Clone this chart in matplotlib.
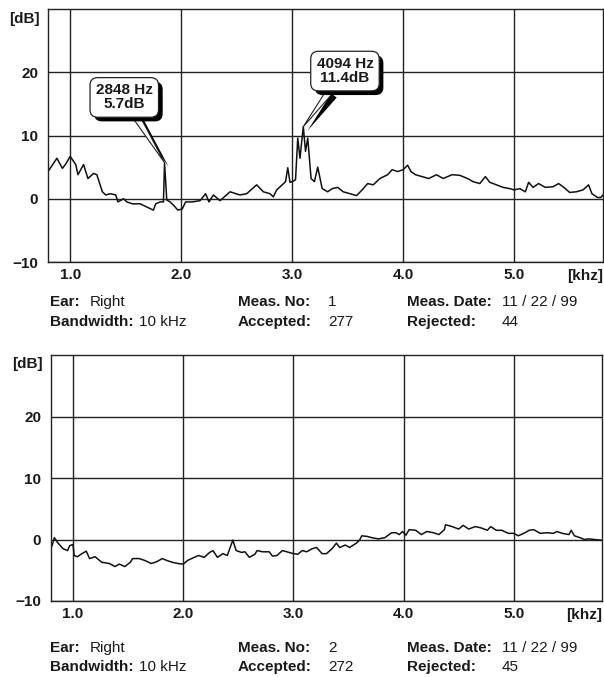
import numpy as np
import matplotlib.pyplot as plt
from matplotlib import patheffects as pe

plt.rcParams['font.family'] = ['Liberation Sans', 'DejaVu Sans']

# Mesure 1 (kHz, dB)
freq1 = [0.80, 0.88, 0.93, 0.96, 1.00, 1.05, 1.07, 1.12, 1.16, 1.21, 1.24, 1.29, 1.32, 1.36,
         1.41, 1.43, 1.48, 1.51, 1.56, 1.63, 1.69, 1.75, 1.77, 1.81, 1.84, 1.85, 1.87, 1.90,
         1.93, 1.97, 2.01, 2.04, 2.10, 2.17, 2.22, 2.25, 2.29, 2.35, 2.44, 2.53, 2.59, 2.68,
         2.74, 2.80, 2.83, 2.86, 2.91, 2.94, 2.96, 2.98, 3.00, 3.03, 3.05, 3.07, 3.10, 3.12,
         3.14, 3.17, 3.20, 3.23, 3.27, 3.32, 3.36, 3.41, 3.46, 3.52, 3.58, 3.63, 3.68, 3.73,
         3.79, 3.86, 3.90, 3.95, 4.00, 4.04, 4.07, 4.11, 4.17, 4.23, 4.30, 4.36, 4.44, 4.51,
         4.58, 4.63, 4.69, 4.74, 4.78, 4.84, 4.90, 4.96, 5.00, 5.05, 5.10, 5.13, 5.17, 5.22,
         5.28, 5.35, 5.40, 5.44, 5.50, 5.56, 5.62, 5.67, 5.70, 5.75, 5.78, 5.80]
level1 = [4.3, 6.4, 4.8, 5.5, 6.7, 5.4, 3.8, 5.4, 3.2, 4.0, 3.8, 1.1, 0.6, 0.8,
          0.6, -0.5, 0.0, -0.5, -0.8, -0.8, -1.3, -1.8, -0.8, -0.5, -0.5, 5.7, -0.2, -0.5,
          -1.0, -1.8, -1.6, -0.5, -0.5, -0.3, 0.8, -0.5, 0.6, -0.3, 1.1, 0.6, 0.8, 2.2,
          1.1, 0.8, 0.3, 1.4, 2.2, 2.7, 4.9, 2.6, 2.7, 3.0, 9.6, 6.4, 11.4, 7.5,
          9.6, 3.2, 2.7, 5.0, 1.6, 1.1, 1.6, 1.8, 1.1, 0.8, 0.5, 1.4, 2.4, 2.2,
          3.2, 3.8, 4.6, 4.3, 4.6, 5.3, 4.3, 3.8, 3.5, 3.2, 3.8, 3.2, 3.8, 3.7,
          3.2, 2.7, 2.4, 3.5, 2.6, 2.2, 1.8, 1.6, 1.4, 1.6, 1.1, 2.6, 1.8, 2.4,
          1.8, 1.9, 2.4, 1.9, 1.0, 1.1, 1.4, 2.2, 0.8, 0.2, 0.2, 0.6]

# Mesure 2
freq2 = [0.81, 0.83, 0.86, 0.91, 0.95, 0.97, 1.00, 1.01, 1.04, 1.08, 1.12, 1.15, 1.20, 1.26,
         1.33, 1.38, 1.42, 1.47, 1.52, 1.54, 1.60, 1.65, 1.71, 1.76, 1.81, 1.85, 1.90, 1.95,
         2.00, 2.04, 2.10, 2.14, 2.19, 2.24, 2.27, 2.31, 2.36, 2.40, 2.45, 2.48, 2.53, 2.56,
         2.60, 2.65, 2.67, 2.72, 2.78, 2.81, 2.85, 2.90, 2.94, 3.00, 3.04, 3.08, 3.12, 3.17,
         3.21, 3.26, 3.30, 3.35, 3.39, 3.42, 3.47, 3.51, 3.57, 3.60, 3.62, 3.67, 3.71, 3.77,
         3.83, 3.89, 3.93, 3.96, 3.99, 4.02, 4.05, 4.11, 4.16, 4.21, 4.27, 4.32, 4.37, 4.38,
         4.44, 4.50, 4.54, 4.59, 4.65, 4.70, 4.76, 4.79, 4.84, 4.89, 4.95, 5.00, 5.04, 5.09,
         5.14, 5.18, 5.24, 5.30, 5.36, 5.39, 5.44, 5.50, 5.52, 5.55, 5.60, 5.64, 5.68, 5.73,
         5.79]
level2 = [-1.0, 0.3, -0.5, -1.5, -1.8, -1.0, -0.8, -2.6, -2.8, -2.3, -1.9, -3.1, -2.8, -3.7,
          -3.9, -4.4, -4.0, -4.4, -3.7, -3.1, -3.1, -3.4, -3.9, -3.6, -3.1, -3.4, -3.7, -3.9,
          -4.0, -3.4, -2.9, -2.6, -2.9, -2.1, -1.8, -2.9, -2.3, -2.6, -0.1, -1.8, -2.1, -2.0,
          -2.9, -2.4, -1.8, -2.0, -2.0, -2.7, -2.6, -1.8, -2.0, -2.3, -2.4, -1.8, -2.0, -1.5,
          -1.3, -2.3, -2.3, -1.5, -0.6, -1.3, -0.9, -1.3, -0.6, -0.1, 0.6, 0.5, 0.3, 0.1,
          0.3, 1.1, 1.1, 0.8, 1.3, 0.7, 1.6, 1.5, 0.8, 1.3, 1.1, 0.8, 1.6, 2.4,
          2.1, 1.7, 2.3, 1.7, 2.1, 1.9, 1.5, 2.1, 1.5, 1.5, 1.0, 1.0, 0.6, 1.0,
          1.5, 1.6, 1.0, 1.1, 1.0, 1.3, 1.0, 0.8, 1.5, 0.6, 0.3, 0.0, 0.1, 0.0,
          -0.1]

peak_freq = [1.85, 3.10]
peak_level = [5.7, 11.4]
peak_labels = ['2848 Hz\n5.7dB', '4094 Hz\n11.4dB']
peak_offsets = [(-29, 47), (30, 40)]

xticks = [1.0, 2.0, 3.0, 4.0, 5.0]
yticks = [-10, 0, 10, 20]
meas_no = ['1', '2']
accepted = ['277', '272']
rejected = ['44', '45']

W, H = 604, 677
fig = plt.figure(figsize=(W / 100, H / 100), dpi=100)
INK = '#1a1a1a'

def px_rect(left, top, right, bottom):
    return [left / W, 1 - bottom / H, (right - left) / W, (bottom - top) / H]

def panel(rect, fx, fy):
    ax = fig.add_axes(rect)
    ax.set_xlim(0.8, 5.8)
    ax.set_ylim(-10, 30)
    ax.set_xticks(xticks)
    ax.set_xticklabels(['%.1f' % v for v in xticks])
    ax.set_yticks(yticks)
    ax.tick_params(length=0, labelsize=11, colors=INK)
    ax.tick_params(axis='x', pad=4)
    ax.tick_params(axis='y', pad=7)
    for lab in ax.get_xticklabels() + ax.get_yticklabels():
        lab.set_fontweight('bold')
    ax.grid(True, color='#222', lw=1.0)
    for s in ax.spines.values():
        s.set_linewidth(1.0)
        s.set_color('#222')
    ax.plot(fx, fy, color='#111', lw=1.1)
    ax.text(-0.015, 0.99, '[dB]', transform=ax.transAxes, ha='right', va='top',
            fontsize=11, fontweight='bold', color=INK)
    ax.text(1.0, -0.028, '[khz]', transform=ax.transAxes, ha='right', va='top',
            fontsize=11, fontweight='bold', color=INK)
    return ax

def info(y1, y2, i):
    kw_b = dict(fontsize=11, fontweight='bold', color=INK, va='center')
    kw_n = dict(fontsize=11, color=INK, va='center')
    fig.text(50 / W, 1 - y1 / H, 'Ear:', **kw_b)
    fig.text(90 / W, 1 - y1 / H, 'Right', **kw_n)
    fig.text(50 / W, 1 - y2 / H, 'Bandwidth:', **kw_b)
    fig.text(139 / W, 1 - y2 / H, '10 kHz', **kw_n)
    fig.text(238 / W, 1 - y1 / H, 'Meas. No:', **kw_b)
    fig.text(328 / W, 1 - y1 / H, meas_no[i], **kw_n)
    fig.text(238 / W, 1 - y2 / H, 'Accepted:', **kw_b)
    fig.text(328 / W, 1 - y2 / H, accepted[i], **kw_n)
    fig.text(407 / W, 1 - y1 / H, 'Meas. Date:', **kw_b)
    fig.text(502 / W, 1 - y1 / H, '11 / 22 / 99', **kw_n)
    fig.text(407 / W, 1 - y2 / H, 'Rejected:', **kw_b)
    fig.text(502 / W, 1 - y2 / H, rejected[i], **kw_n)

ax1 = panel(px_rect(48, 9, 603, 262), freq1, level1)
ax2 = panel(px_rect(51, 355, 602, 601), freq2, level2)

shadow = [pe.withSimplePatchShadow(offset=(3, -3), shadow_rgbFace='black', alpha=1)]
for fx, fy, lab, off in zip(peak_freq, peak_level, peak_labels, peak_offsets):
    t = ax1.annotate(lab, xy=(fx, fy), xytext=off, textcoords='offset points',
                     ha='center', va='center', fontsize=11, fontweight='bold',
                     color=INK, linespacing=1.0,
                     bbox=dict(boxstyle='round,pad=0.38,rounding_size=0.5', fc='white',
                               ec='#222', lw=0.9),
                     arrowprops=dict(arrowstyle='wedge,tail_width=0.45,shrink_factor=0.5',
                                     fc='white', ec='#222', lw=0.8,
                                     shrinkA=0, shrinkB=0, path_effects=shadow))
    t.get_bbox_patch().set_path_effects(shadow)

info(302, 322, 0)
info(648, 667, 1)

fig.savefig('out.png', dpi=100)
